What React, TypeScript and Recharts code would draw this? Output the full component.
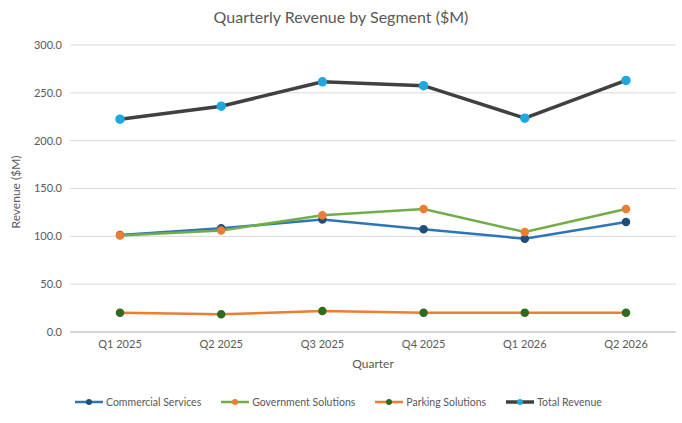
import { CartesianGrid, Line, LineChart, XAxis, YAxis } from "recharts";

const quarters = ["Q1 2025", "Q2 2025", "Q3 2025", "Q4 2025", "Q1 2026", "Q2 2026"];
const commercial = [101.5, 108.5, 117.5, 107.5, 97.5, 115];
const government = [101, 106, 122, 128.5, 104.5, 128.5];
const parking = [20, 18.5, 22, 20, 20, 20];
const total = [222.5, 236, 261.5, 257.5, 223.5, 263];
const yTicks = [0, 50, 100, 150, 200, 250, 300];

const data = quarters.map((q, i) => ({
  q,
  commercial: commercial[i],
  government: government[i],
  parking: parking[i],
  total: total[i],
}));

const series = [
  { key: "commercial", name: "Commercial Services", line: "#2E75B6", dot: "#1F4E79", w: 2.5 },
  { key: "government", name: "Government Solutions", line: "#70AD47", dot: "#ED7D31", w: 2.5 },
  { key: "parking", name: "Parking Solutions", line: "#ED7D31", dot: "#2E6B1E", w: 2.5 },
  { key: "total", name: "Total Revenue", line: "#404040", dot: "#1FA8E0", w: 3.5 },
];

const font = "Lato, 'Open Sans', sans-serif";

export default function App() {
  return (
    <div style={{ position: "absolute", left: 0, top: 0, width: 682, height: 423, background: "#fff", fontFamily: font }}>
      <div style={{ position: "absolute", top: 7, width: 682, textAlign: "center", fontSize: 16, color: "#595959" }}>
        Quarterly Revenue by Segment ($M)
      </div>
      <LineChart width={682} height={423} data={data} margin={{ top: 45, right: 6, left: 0, bottom: 47 }}>
        <CartesianGrid vertical={false} stroke="#D9D9D9" />
        <XAxis
          dataKey="q"
          padding={{ left: 50, right: 50 }}
          tick={{ fontSize: 11, fill: "#595959", fontFamily: font }}
          tickLine={false}
          axisLine={{ stroke: "#BFBFBF" }}
          height={44}
          label={{ value: "Quarter", position: "insideBottom", offset: 8, fontSize: 12, fill: "#595959", fontFamily: font }}
        />
        <YAxis
          domain={[0, 300]}
          ticks={yTicks}
          tickFormatter={(v) => v.toFixed(1)}
          tick={{ fontSize: 11, fill: "#595959", fontFamily: font }}
          tickLine={false}
          axisLine={false}
          width={70}
          label={{ value: "Revenue ($M)", angle: -90, position: "insideLeft", offset: 16, dy: 40, fontSize: 12, fill: "#595959", fontFamily: font }}
        />
        {series.map((s) => (
          <Line
            key={s.key}
            dataKey={s.key}
            name={s.name}
            stroke={s.line}
            strokeWidth={s.w}
            dot={{ r: 3, fill: s.dot, stroke: s.dot }}
            isAnimationActive={false}
          />
        ))}
      </LineChart>
      <div style={{ position: "absolute", top: 396, left: 75, display: "flex", gap: 20, fontSize: 10.5, color: "#595959" }}>
        {series.map((s) => (
          <div key={s.key} style={{ display: "flex", alignItems: "center", gap: 3 }}>
            <svg width={28} height={10}>
              <line x1={0} y1={5} x2={28} y2={5} stroke={s.line} strokeWidth={s.w} />
              <circle cx={14} cy={5} r={3} fill={s.dot} />
            </svg>
            <span>{s.name}</span>
          </div>
        ))}
      </div>
    </div>
  );
}
